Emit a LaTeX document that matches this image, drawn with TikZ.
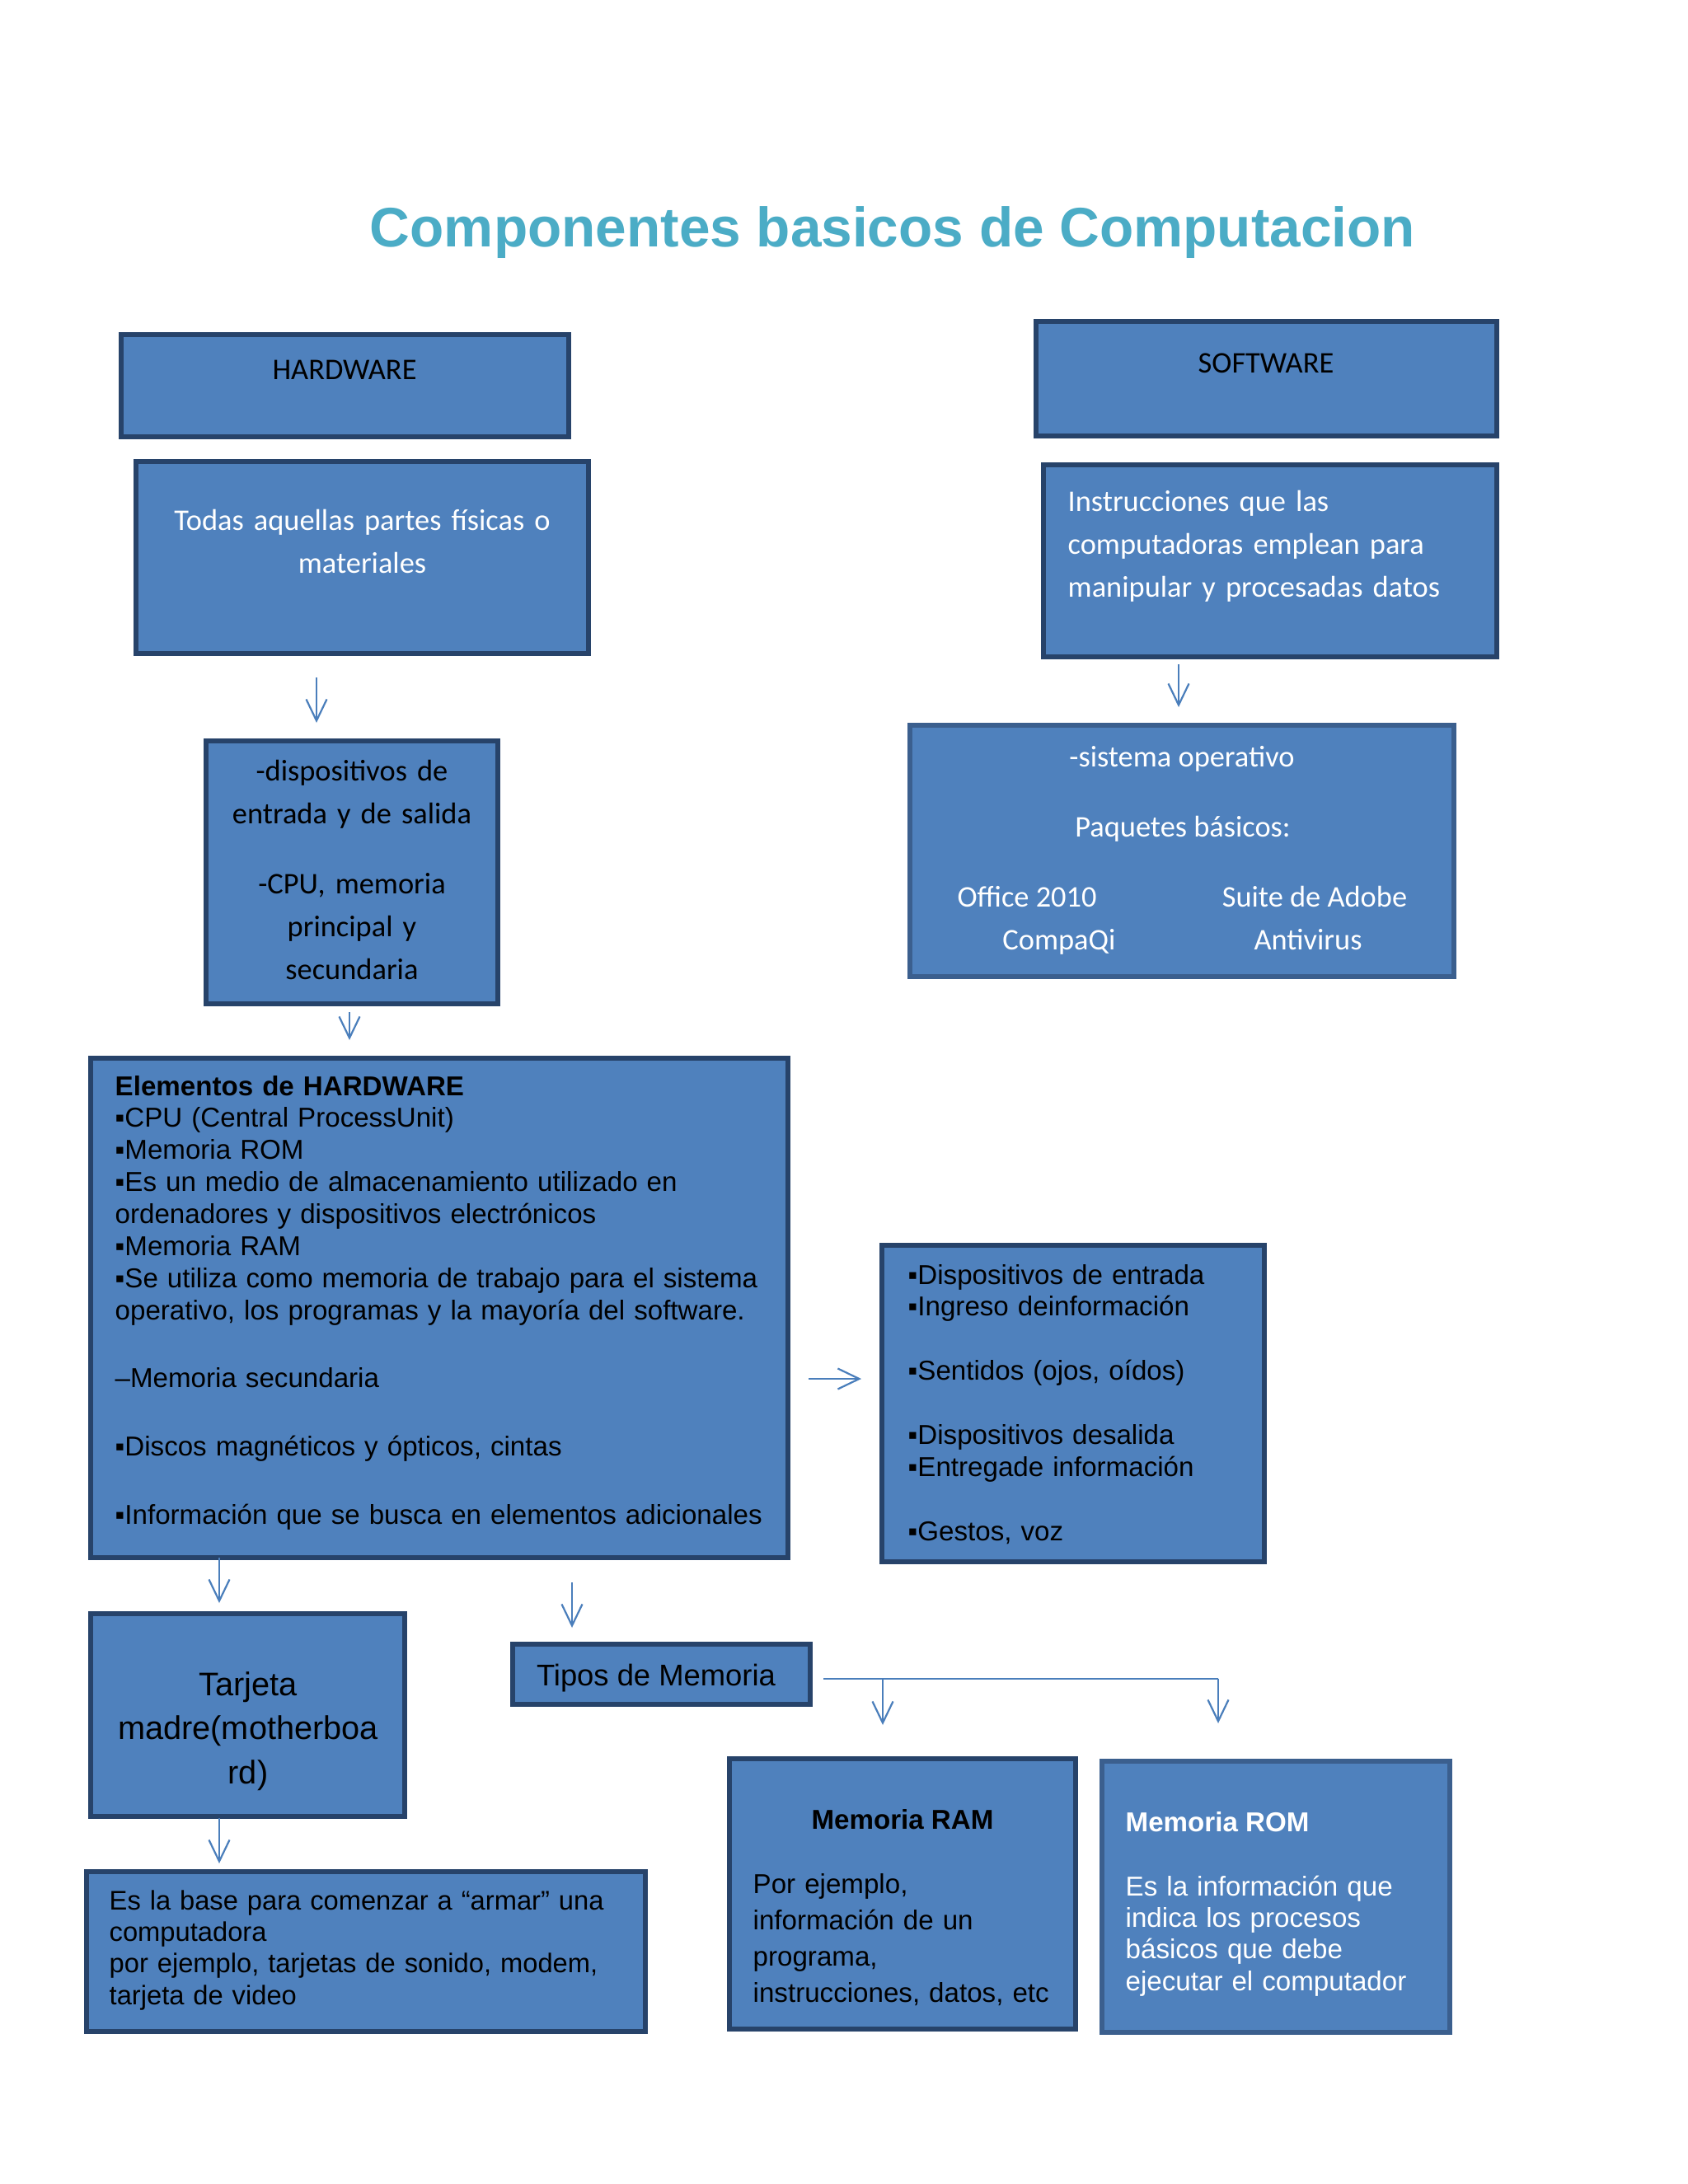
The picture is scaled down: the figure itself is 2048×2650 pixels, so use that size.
\documentclass[tikz,border=0pt]{standalone}
\usepackage{fontspec}
\setmainfont{Liberation Sans}
\newfontfamily\calfont{Carlito}
\usetikzlibrary{arrows.meta}
\definecolor{fillc}{HTML}{4F81BD}
\definecolor{borderc}{HTML}{27436A}
\definecolor{borderl}{HTML}{3B5F8E}
\definecolor{arrowc}{HTML}{4A7EBB}
\definecolor{titlec}{HTML}{4BACC6}
\tikzset{
  box/.style={draw=borderc, fill=fillc, line width=0.06cm, inner sep=0pt},
  boxl/.style={box, draw=borderl},
  cal/.style={font=\calfont\fontsize{10.35}{14.8}\selectfont, inner sep=0pt, text=black},
  calw/.style={cal, text=white},
  ar/.style={font=\fontsize{9.42}{11.05}\selectfont, inner sep=0pt, text=black},
  arw/.style={ar, text=white},
  arr/.style={draw=arrowc, line width=0.022cm, -{Straight Barb[length=0.26cm, width=0.25cm, line width=0.022cm]}},
  ln/.style={draw=arrowc, line width=0.022cm}
}
\begin{document}
\begin{tikzpicture}[x=0.01cm, y=-0.01cm]
\useasboundingbox[fill=white] (0,0) rectangle (2048,2650);

% title
\node[font=\bfseries\fontsize{19.2}{23}\selectfont, text=titlec, anchor=base, inner sep=0pt] (title) at (1083,299) {Componentes basicos de Computacion};

% boxes
\node[box, minimum width=5.43cm, minimum height=1.24cm] (hw) at (418.5,468) {};
\node[box, minimum width=5.49cm, minimum height=2.33cm] (todas) at (439.5,676.5) {};
\node[box, minimum width=3.54cm, minimum height=3.19cm] (disp) at (427,1058.5) {};
\node[box, minimum width=5.59cm, minimum height=1.39cm] (sw) at (1536.5,459.5) {};
\node[box, minimum width=5.50cm, minimum height=2.33cm] (instr) at (1541,680.5) {};
\node[boxl, minimum width=6.60cm, minimum height=3.05cm] (sist) at (1434,1032.5) {};
\node[box, minimum width=8.46cm, minimum height=6.06cm] (elem) at (533,1587) {};
\node[box, minimum width=4.64cm, minimum height=3.84cm] (dev) at (1302,1703) {};
\node[box, minimum width=3.81cm, minimum height=2.46cm] (tarj) at (300.5,2081) {};
\node[box, minimum width=3.61cm, minimum height=0.73cm] (tipos) at (802.5,2031.5) {};
\node[box, minimum width=6.78cm, minimum height=1.94cm] (base) at (444,2368) {};
\node[box, minimum width=4.20cm, minimum height=3.28cm] (ram) at (1095,2298) {};
\node[boxl, minimum width=4.22cm, minimum height=3.29cm] (rom) at (1548,2301.5) {};

% texts
\node[cal, anchor=base] (hwt) at (418,460) {HARDWARE};
\node[cal, anchor=base] (swt) at (1536,452) {SOFTWARE};
\node[calw, anchor=base, text width=5.4cm, align=center] (todast) at (439.5,643) {Todas aquellas partes físicas o\\ materiales};
\node[cal, anchor=base, text width=3.4cm, align=center] (dispt) at (427,947) {-dispositivos de\\ entrada y de salida\\[0.33cm] -CPU, memoria\\ principal y\\ secundaria};
\node[calw, anchor=base west, text width=5.3cm, align=left] (instrt) at (1295,620) {Instrucciones que las\\ computadoras emplean para\\ manipular y procesadas datos};
\node[calw, anchor=base] (s1) at (1434,930) {-sistema operativo};
\node[calw, anchor=base] (s2) at (1435,1015) {Paquetes básicos:};
\node[calw, anchor=base] (s3) at (1246,1100) {Office 2010};
\node[calw, anchor=base] (s4) at (1595,1100) {Suite de Adobe};
\node[calw, anchor=base] (s5) at (1285,1152) {CompaQi};
\node[calw, anchor=base] (s6) at (1587,1152) {Antivirus};

\node[ar, anchor=base west, text width=8.3cm, align=left] (elemt) at (139,1329) {\textbf{Elementos de HARDWARE}\\ ▪CPU (Central ProcessUnit)\\ ▪Memoria ROM\\ ▪Es un medio de almacenamiento utilizado en\\ ordenadores y dispositivos electrónicos\\ ▪Memoria RAM\\ ▪Se utiliza como memoria de trabajo para el sistema\\ operativo, los programas y la mayoría del software.\\[0.44cm] –Memoria secundaria\\[0.44cm] ▪Discos magnéticos y ópticos, cintas\\[0.44cm] ▪Información que se busca en elementos adicionales};

\node[ar, anchor=base west, text width=4.3cm, align=left] (devt) at (1101,1558) {▪Dispositivos de entrada\\ ▪Ingreso deinformación\\[0.39cm] ▪Sentidos (ojos, oídos)\\[0.39cm] ▪Dispositivos desalida\\ ▪Entregade información\\[0.39cm] ▪Gestos, voz};

\node[ar, font=\fontsize{11.3}{15.3}\selectfont, anchor=base, text width=3.7cm, align=center] (tarjt) at (301,2057) {Tarjeta\\ madre(motherboa\\ rd)};
\node[ar, font=\fontsize{10.35}{12.5}\selectfont, anchor=base] (tipost) at (796,2045) {Tipos de Memoria};
\node[ar, font=\fontsize{9.3}{10.9}\selectfont, anchor=base west, text width=6.5cm, align=left] (baset) at (132,2317) {Es la base para comenzar a “armar” una\\ computadora\\ por ejemplo, tarjetas de sonido, modem,\\ tarjeta de video};

\node[ar, font=\bfseries\fontsize{9.42}{11}\selectfont, anchor=base] (ramh) at (1095,2219) {Memoria RAM};
\node[ar, font=\fontsize{9.42}{12.6}\selectfont, anchor=base west, text width=3.9cm, align=left] (ramt) at (913,2297) {Por ejemplo,\\ información de un\\ programa,\\ instrucciones, datos, etc};
\node[arw, font=\bfseries\fontsize{9.42}{11}\selectfont, anchor=base west] (romh) at (1365,2222) {Memoria ROM};
\node[arw, font=\fontsize{9.42}{10.9}\selectfont, anchor=base west, text width=3.9cm, align=left] (romt) at (1365,2300) {Es la información que\\ indica los procesos\\ básicos que debe\\ ejecutar el computador};

% arrow end points
\coordinate (a1s) at (384,822);  \coordinate (a1e) at (384,877);
\coordinate (a2s) at (424,1228); \coordinate (a2e) at (424,1262);
\coordinate (a3s) at (1430,806); \coordinate (a3e) at (1430,858);
\coordinate (a4s) at (981,1673); \coordinate (a4e) at (1045,1673);
\coordinate (a5s) at (266,1890); \coordinate (a5e) at (266,1945);
\coordinate (a6s) at (694,1920); \coordinate (a6e) at (694,1975);
\coordinate (a7s) at (266,2206); \coordinate (a7e) at (266,2261);
\coordinate (bs) at (999,2037);
\coordinate (bm) at (1071,2037); \coordinate (bme) at (1071,2093);
\coordinate (bc) at (1478,2037); \coordinate (bce) at (1478,2091);

\draw[arr] (a1s) -- (a1e);
\draw[arr] (a2s) -- (a2e);
\draw[arr] (a3s) -- (a3e);
\draw[arr] (a4s) -- (a4e);
\draw[arr] (a5s) -- (a5e);
\draw[arr] (a6s) -- (a6e);
\draw[arr] (a7s) -- (a7e);
\draw[ln] (bs) -- (bc);
\draw[arr] (bc) -- (bce);
\draw[arr] (bm) -- (bme);
\end{tikzpicture}
\end{document}
